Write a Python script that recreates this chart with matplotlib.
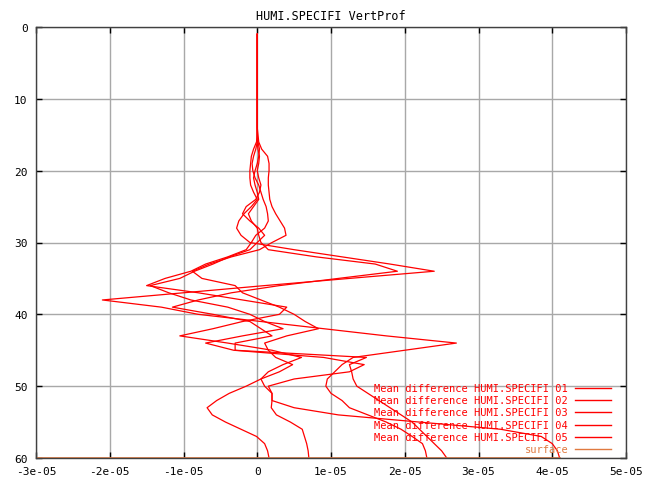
"""HUMI.SPECIFI vertical profile, mean differences per run"""

import numpy as np
import matplotlib
matplotlib.use("Agg")
import matplotlib.pyplot as plt

# model levels 1..60
levels = np.arange(1, 61)

# mean differences (units of 1e-06)
diff_01 = [0.0, 0.0, 0.0, 0.0, 0.0, 0.0, 0.0, 0.0, 0.0, 0.0, 0.0, 0.0, 0.0, 0.0, 0.1,
           0.2, 0.6, 1.4, 1.6, 1.6, 1.5, 1.5, 1.6, 1.7, 2.0, 2.5, 3.1, 3.7, 3.9, 2.0,
           0.3, -3.5, -6.5, -8.8, -7.5, -3.0, -2.0, 0.5, 3.0, 5.0, 6.5, 8.3, 4.0, 1.0, 1.5,
           2.5, 4.8, 3.0, 0.5, -1.5, -3.8, -5.5, -6.8, -6.1, -4.3, -2.2, -0.1, 1.0, 1.4, 1.6]
diff_02 = [0.0, 0.0, 0.0, 0.0, 0.0, 0.0, 0.0, 0.0, 0.0, 0.0, 0.0, 0.0, 0.0, 0.0, 0.0,
           -0.1, -0.5, -0.8, -0.9, -1.0, -1.0, -0.9, -0.5, 0.0, -0.8, -1.8, -2.5, -2.8, -2.2, -1.0,
           5.0, 11.5, 18.0, 24.0, 12.5, 1.0, -10.0, -21.0, -13.0, -8.0, 0.5, 9.0, 17.5, 27.0, 20.0,
           13.0, 11.5, 10.5, 9.5, 9.3, 10.0, 11.5, 12.5, 15.0, 17.5, 19.5, 21.0, 22.4, 22.8, 23.0]
diff_03 = [0.0, 0.0, 0.0, 0.0, 0.0, 0.0, 0.0, 0.0, 0.0, 0.0, 0.0, 0.0, 0.0, 0.0, 0.0,
           0.1, 0.3, 0.2, 0.0, -0.3, -0.5, -0.3, 0.0, 0.2, -0.5, -1.2, -0.8, 0.0, 0.2, 0.5,
           1.5, 8.0, 16.0, 19.0, 11.0, 3.0, -3.5, -8.0, -11.5, -6.0, -1.0, 0.5, 2.0, -3.0, -3.0,
           14.8, 12.5, 12.8, 13.0, 13.5, 15.0, 16.5, 18.0, 19.5, 21.0, 22.0, 23.0, 24.0, 25.0, 25.7]
diff_04 = [0.0, 0.0, 0.0, 0.0, 0.0, 0.0, 0.0, 0.0, 0.0, 0.0, 0.0, 0.0, 0.0, 0.0, 0.0,
           0.0, -0.2, -0.5, -0.7, -0.6, -0.3, 0.2, 0.5, 0.8, 1.2, 1.4, 1.5, 1.0, -0.2, -0.8,
           -1.5, -4.0, -7.0, -9.0, -12.5, -15.0, -8.0, -2.0, 4.0, 3.0, -2.0, -6.0, -10.5, -4.0, 2.0,
           6.0, 3.5, 1.5, 0.5, 1.0, 2.0, 2.0, 5.0, 11.0, 22.0, 33.0, 38.5, 40.0, 40.7, 41.0]
diff_05 = [0.0, 0.0, 0.0, 0.0, 0.0, 0.0, 0.0, 0.0, 0.0, 0.0, 0.0, 0.0, 0.0, 0.0, 0.0,
           0.0, 0.1, 0.3, 0.2, 0.0, 0.2, 0.5, 0.3, -0.2, -1.5, -2.0, -1.0, 0.2, 1.0, 0.0,
           -1.0, -3.8, -6.0, -8.5, -10.5, -14.5, -12.0, -9.0, -4.0, -1.0, 1.0, 3.5, -2.0, -7.0, -3.2,
           9.0, 14.5, 12.5, 5.0, 1.5, 2.0, 2.0, 1.9, 2.6, 4.5, 6.1, 6.4, 6.7, 6.9, 7.0]

series = [diff_01, diff_02, diff_03, diff_04, diff_05]
labels = ["Mean difference HUMI.SPECIFI 0%d" % (i + 1) for i in range(5)]

surface_level = 60
surface_x = [-3e-05, 4.1e-05]

xticks = [-3e-05, -2e-05, -1e-05, 0, 1e-05, 2e-05, 3e-05, 4e-05, 5e-05]
xticklabels = ["-3e-05", "-2e-05", "-1e-05", "0", "1e-05", "2e-05", "3e-05", "4e-05", "5e-05"]
yticks = [0, 10, 20, 30, 40, 50, 60]

line_col = "#ff0000"
surf_col = "#e07a40"
font = "DejaVu Sans Mono"

fig = plt.figure(figsize=(6.56, 4.85), dpi=100)
ax = fig.add_axes([36 / 656, 1 - 459 / 485, 590 / 656, 431 / 485])

for vals in series:
    ax.plot(np.array(vals) * 1e-6, levels, color=line_col, lw=0.9)
ax.plot(surface_x, [surface_level, surface_level], color=surf_col, lw=1.2)

ax.set_xlim(-3e-05, 5e-05)
ax.set_ylim(60, 0)
ax.set_xticks(xticks)
ax.set_xticklabels(xticklabels, fontfamily=font, fontsize=8)
ax.set_yticks(yticks)
ax.set_yticklabels([str(t) for t in yticks], fontfamily=font, fontsize=8)
ax.tick_params(direction="in", length=4, width=1, top=True, right=True, pad=6, colors="black")
ax.grid(True, color="#a8a8a8", lw=1)
ax.set_axisbelow(True)
for sp in ax.spines.values():
    sp.set_color("#404040")
    sp.set_linewidth(1)

ax.set_title("HUMI.SPECIFI VertProf", fontfamily=font, fontsize=8.5, pad=6)

# legend drawn by hand: text right-aligned, sample line after it
entries = labels + ["surface"]
colors = [line_col] * 5 + [surf_col]
y0 = 0.163
dy = 0.0285
for i, (lab, c) in enumerate(zip(entries, colors)):
    y = y0 - i * dy
    ax.text(0.902, y, lab, transform=ax.transAxes, ha="right", va="center",
            color=c, fontfamily=font, fontsize=7.5)
    ax.plot([0.914, 0.975], [y, y], transform=ax.transAxes, color=c, lw=1)

fig.savefig("out.png", dpi=100)
